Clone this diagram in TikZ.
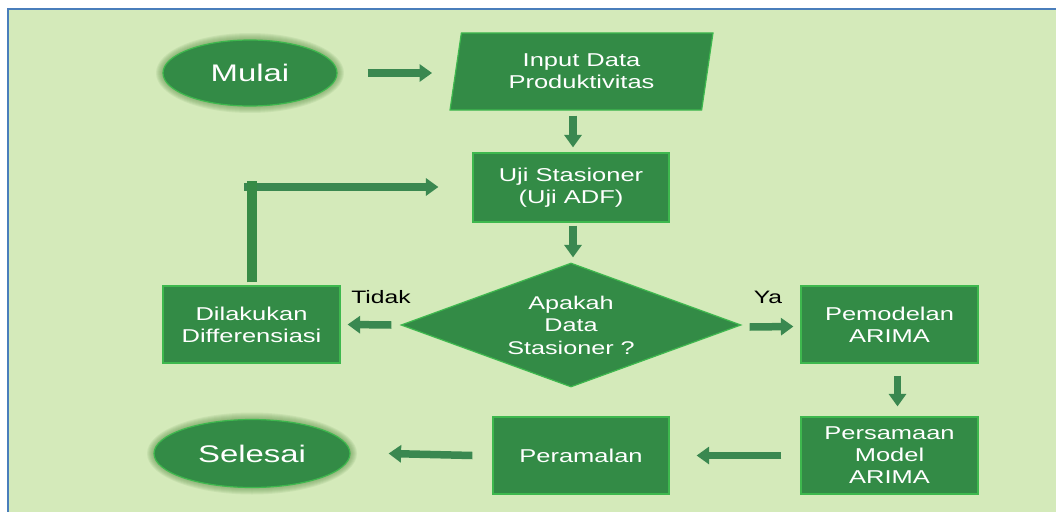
\documentclass[tikz,border=0pt]{standalone}
\usepackage{fontspec}
\setmainfont{Liberation Sans}[FakeStretch=1.37]
\usetikzlibrary{shapes.geometric,arrows.meta,calc}

\definecolor{bg}{RGB}{212,234,186}
\definecolor{framecol}{RGB}{74,126,187}
\definecolor{boxfill}{RGB}{51,139,70}
\definecolor{boxedge}{RGB}{62,184,78}
\definecolor{arrowfill}{RGB}{58,136,80}
\definecolor{barfill}{RGB}{55,139,70}
\definecolor{glowcol}{RGB}{100,150,80}

\tikzset{
  shapebase/.style={fill=boxfill, draw=boxedge, line width=1.2pt, text=white,
    align=center, inner sep=0pt, font=\fontsize{18.6}{22}\selectfont},
  box/.style={shapebase, rectangle, minimum width=177pt, minimum height=77pt},
  terminal/.style={shapebase, ellipse, font=\fontsize{24}{28}\selectfont},
  io/.style={shapebase, trapezium, trapezium left angle=72, trapezium right angle=108,
    trapezium stretches body, minimum width=263pt, minimum height=77pt},
  decision/.style={shapebase, diamond, aspect=2.74, minimum width=340pt,
    minimum height=124pt, font=\fontsize{18.4}{22.5}\selectfont},
  flow/.style={line width=7.5pt, draw=arrowfill, -{Triangle[length=12.5pt,width=17pt]}},
  loopbar/.style={line width=10pt, draw=barfill},
  answer/.style={font=\fontsize{18}{22}\selectfont, text=black},
}

\begin{document}
\begin{tikzpicture}[x=1pt, y=-1pt]
  \useasboundingbox (0,0) rectangle (1056,511);
  % panel
  \fill[bg] (8,9) rectangle (1064,520);
  \draw[framecol, line width=1.6pt] (8,520) -- (8,9) -- (1064,9);

  % soft halo behind the terminals
  \foreach \i in {1,...,7} {
    \fill[glowcol, opacity=0.11] (250,73) ellipse [x radius={87pt+\i*1pt}, y radius={33pt+\i*1pt}];
    \fill[glowcol, opacity=0.11] (252,453.5) ellipse [x radius={98pt+\i*1pt}, y radius={34pt+\i*1pt}];
  }

  % nodes
  \node[terminal, minimum width=174pt, minimum height=66pt] (mulai) at (250,73) {Mulai};
  \node[io] (input) at (581.5,71.5) {Input Data\\Produktivitas};
  \node[box, minimum width=196pt, minimum height=69pt] (uji) at (571,187.5) {Uji Stasioner\\(Uji ADF)};
  \node[decision] (dec) at (571,325) {Apakah\\Data\\Stasioner ?};
  \node[box] (diff) at (251.5,324.5) {Dilakukan\\Differensiasi};
  \node[box] (arima) at (889.5,324.5) {Pemodelan\\ARIMA};
  \node[box] (pers) at (889.5,455.5) {Persamaan\\Model\\ARIMA};
  \node[box, minimum width=176pt] (peram) at (581,455.5) {Peramalan};
  \node[terminal, minimum width=196pt, minimum height=68pt] (selesai) at (252,453.5) {Selesai};

  \node[answer] (tidak) at (381,297) {Tidak};
  \node[answer] (ya) at (768,297) {Ya};

  % connectors
  \draw[flow] ($(mulai.east)+(30,0)$) -- ($(mulai.east -| input.west)+(-23,0)$);
  \draw[flow] ($(input.south -| uji.north)+(2,5)$) -- ($(uji.north)+(2,-5)$);
  \draw[flow] ($(uji.south)+(2,3)$) -- ($(dec.north)+(2,-5)$);
  \draw[flow] ($(dec.west)+(-9,0)$) -- ($(diff.east)+(7,0)$);
  \draw[flow] ($(dec.east)+(8,2)$) -- ($(arima.west)+(-7,2)$);
  \draw[flow] ($(arima.south)+(8,12)$) -- ($(pers.north)+(8,-10)$);
  \draw[flow] ($(pers.west)+(-19,0)$) -- ($(peram.east)+(27,0)$);
  \draw[flow] ($(peram.west)+(-20,0)$) -- ($(selesai.east)+(38,0)$);

  % loop back from the differencing step to the stationarity test
  \coordinate (loopstart) at (244,187);
  \coordinate (looptop) at (252,181);
  \draw[flow] (loopstart) -- ($(loopstart -| uji.west)+(-34,0)$);
  \draw[loopbar] ($(diff.north)+(0.5,-3)$) -- (looptop);
\end{tikzpicture}
\end{document}
